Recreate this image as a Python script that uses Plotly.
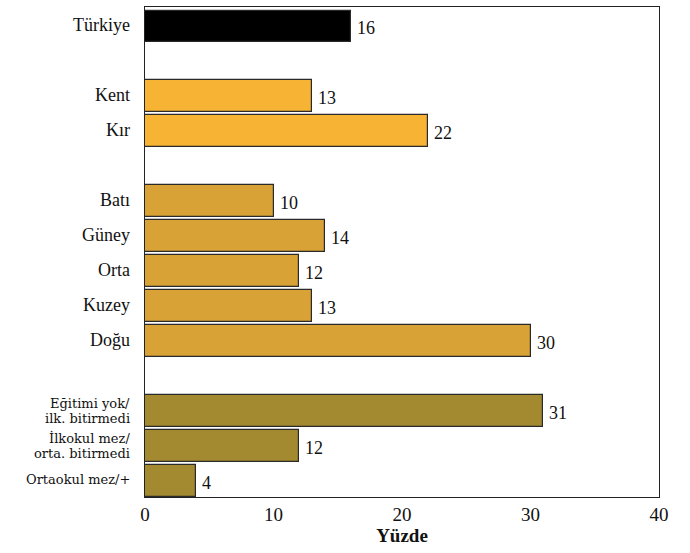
import plotly.graph_objects as go

# Category labels, top to bottom (lines separated by "\n")
labels = ["Türkiye", "Kent", "Kır", "Batı", "Güney", "Orta", "Kuzey", "Doğu",
          "Eğitimi yok/\nilk. bitirmedi", "İlkokul mez/\norta. bitirmedi", "Ortaokul mez/+"]
values = [16, 13, 22, 10, 14, 12, 13, 30, 31, 12, 4]
groups = ["total", "res", "res", "reg", "reg", "reg", "reg", "reg", "edu", "edu", "edu"]
# Row positions (bottom = 0), with empty rows between the groups
rows = [13, 11, 10, 8, 7, 6, 5, 4, 2, 1, 0]
x_ticks = [0, 10, 20, 30, 40]

group_colors = {"total": "#000000", "res": "#F6B334", "reg": "#D9A237", "edu": "#A38A30"}
SERIF = "Liberation Serif, Times New Roman, serif"
WIDE_SERIF = "DejaVu Serif, serif"
group_font = {
    "total": (SERIF, 18), "res": (SERIF, 18), "reg": (SERIF, 18), "edu": (WIDE_SERIF, 13),
}

fig = go.Figure()
fig.add_trace(go.Bar(
    x=values,
    y=rows,
    orientation="h",
    width=0.9,
    marker=dict(color=[group_colors[g] for g in groups],
                line=dict(color="#2a2a2a", width=1.2)),
    showlegend=False,
    hoverinfo="x+y",
))

annotations = []
# Value labels just right of each bar end
for v, r in zip(values, rows):
    annotations.append(dict(
        x=v, y=r, xref="x", yref="y", text=str(v), showarrow=False,
        xanchor="left", yanchor="middle", xshift=4, yshift=-2,
        font=dict(family=SERIF, size=18, color="#111"),
    ))

# Category labels to the left of the axis
for lab, g, r in zip(labels, groups, rows):
    lines = lab.split("\n")
    n = len(lines)
    step = 15.5
    fam, size = group_font[g]
    for i, line in enumerate(lines):
        offset = ((n - 1) / 2 - i) * step
        annotations.append(dict(
            x=0, y=r, xref="paper", yref="y", text=line, showarrow=False,
            xanchor="right", yanchor="middle", xshift=-13, yshift=offset + (1 if n == 1 else 0),
            font=dict(family=fam, size=size, color="#111"),
        ))

fig.update_layout(
    width=690, height=553,
    margin=dict(l=145, r=31, t=7, b=56),
    paper_bgcolor="white", plot_bgcolor="white",
    font=dict(family=SERIF, color="#111"),
    bargap=0,
    annotations=annotations,
    xaxis=dict(
        range=[0, 40], tickvals=x_ticks,
        showgrid=False, zeroline=False,
        showline=True, linecolor="#222", linewidth=1.2, mirror=True,
        ticks="", tickfont=dict(size=19, family=SERIF),
        title=dict(text="<b>Yüzde</b>", font=dict(size=19, family=SERIF), standoff=2),
    ),
    yaxis=dict(
        range=[-0.46, 13.55],
        tickvals=rows, showticklabels=False,
        showgrid=False, zeroline=False,
        showline=True, linecolor="#222", linewidth=1.2, mirror=True,
        ticks="",
    ),
)

fig.write_html("out.html")
